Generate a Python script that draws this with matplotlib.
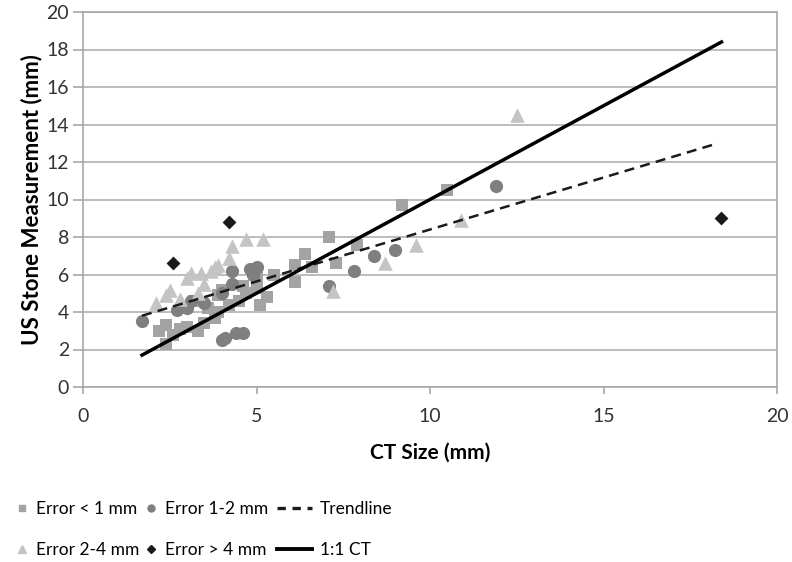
import matplotlib
matplotlib.use("Agg")
import matplotlib.pyplot as plt
from matplotlib.lines import Line2D

plt.rcParams['font.family'] = ['Lato', 'DejaVu Sans']

# Error < 1 mm
sq_x = [10.5, 9.2, 7.1, 7.9, 6.4, 7.3, 6.1, 6.1, 6.6, 5.3, 5.1, 5.0, 5.0, 4.7, 4.5, 4.6,
        4.2, 3.9, 3.8, 3.5, 3.3, 3.0, 2.8, 2.6, 2.4, 2.2, 2.4, 3.6, 3.2, 4.0, 5.5, 3.9]
sq_y = [10.5, 9.7, 8.0, 7.6, 7.1, 6.6, 6.5, 5.6, 6.4, 4.8, 4.4, 5.8, 5.3, 5.0, 4.6, 5.4,
        4.4, 4.0, 3.7, 3.4, 3.0, 3.2, 3.1, 2.8, 3.3, 3.0, 2.3, 4.2, 4.6, 5.2, 6.0, 4.9]
# Error 1-2 mm
ci_x = [11.9, 9.0, 8.4, 7.8, 7.1, 5.0, 4.8, 4.3, 4.0, 4.3, 4.4, 4.6, 4.1, 4.0,
        1.7, 3.1, 3.0, 2.7, 3.5, 4.9]
ci_y = [10.7, 7.3, 7.0, 6.2, 5.4, 6.4, 6.3, 6.2, 5.0, 5.5, 2.9, 2.9, 2.6, 2.5,
        3.5, 4.6, 4.2, 4.1, 4.5, 6.0]
# Error 2-4 mm
tr_x = [12.5, 10.9, 9.6, 8.7, 7.2, 5.2, 4.7, 4.3, 4.2, 3.9, 3.7, 3.4, 3.1, 3.0,
        3.5, 2.5, 2.4, 2.1, 2.8, 3.3, 3.8]
tr_y = [14.5, 8.9, 7.6, 6.6, 5.1, 7.9, 7.9, 7.5, 6.9, 6.5, 6.2, 6.1, 6.1, 5.8,
        5.5, 5.2, 4.9, 4.5, 4.7, 5.0, 6.4]
# Error > 4 mm
di_x = [2.6, 4.2, 18.4]
di_y = [6.6, 8.8, 9.0]

trend_x = [1.7, 18.3]
trend_y = [3.8, 13.0]
ct_x = [1.7, 18.4]
ct_y = [1.7, 18.4]

fig = plt.figure(figsize=(7.92, 5.62), dpi=100)
ax = fig.add_axes([83 / 792, 1 - 387 / 562, 694 / 792, 375 / 562])

ax.scatter(sq_x, sq_y, marker='s', s=80, color='#a3a3a3', zorder=3, linewidths=0)
ax.scatter(ci_x, ci_y, marker='o', s=90, color='#7f7f7f', zorder=3, linewidths=0)
ax.scatter(tr_x, tr_y, marker='^', s=110, color='#c4c4c4', zorder=3, linewidths=0)
ax.scatter(di_x, di_y, marker='D', s=50, color='#1a1a1a', zorder=4, linewidths=0)
ax.plot(trend_x, trend_y, color='#1a1a1a', lw=1.8, dashes=(4, 2.5), zorder=5)
ax.plot(ct_x, ct_y, '-', color='#000000', lw=2.5, zorder=5)

ax.set_xlim(0, 20)
ax.set_ylim(0, 20)
ax.set_xticks(range(0, 21, 5))
ax.set_yticks(range(0, 21, 2))
ax.yaxis.grid(True, color='#b0b0b0', lw=1.2)
ax.set_axisbelow(True)
for s in ax.spines.values():
    s.set_color('#a8a8a8')
    s.set_linewidth(1.2)
ax.tick_params(colors='#333333', labelsize=14, color='#a8a8a8', width=1.2)
ax.tick_params(axis='y', length=7, pad=3)
ax.tick_params(axis='x', length=5, pad=10)
ax.set_xlabel('CT Size (mm)', fontsize=15, fontweight='bold', labelpad=13)
ax.set_ylabel('US Stone Measurement (mm)', fontsize=16, fontweight='bold', labelpad=3)

leg_top = 1 - 501 / 562
leg_kw = dict(loc='upper left', frameon=False, fontsize=12.5, labelspacing=1.45,
              borderpad=0, borderaxespad=0)

col1 = [Line2D([], [], marker='s', ls='', color='#a3a3a3', ms=5),
        Line2D([], [], marker='^', ls='', color='#c4c4c4', ms=6)]
fig.legend(col1, ['Error < 1 mm', 'Error 2-4 mm'], bbox_to_anchor=(13 / 792, leg_top),
           handlelength=1.0, handletextpad=0.35, **leg_kw)

col2 = [Line2D([], [], marker='o', ls='', color='#7f7f7f', ms=5),
        Line2D([], [], marker='D', ls='', color='#1a1a1a', ms=4.5)]
fig.legend(col2, ['Error 1-2 mm', 'Error > 4 mm'], bbox_to_anchor=(142 / 792, leg_top),
           handlelength=1.0, handletextpad=0.35, **leg_kw)

col3 = [Line2D([], [], color='#1a1a1a', lw=2.4, dashes=(2.5, 2)),
        Line2D([], [], ls='-', color='#000000', lw=2.8)]
fig.legend(col3, ['Trendline', '1:1 CT'], bbox_to_anchor=(277 / 792, leg_top),
           handlelength=2.0, handletextpad=0.45, **leg_kw)

fig.savefig('out.png', dpi=100)
